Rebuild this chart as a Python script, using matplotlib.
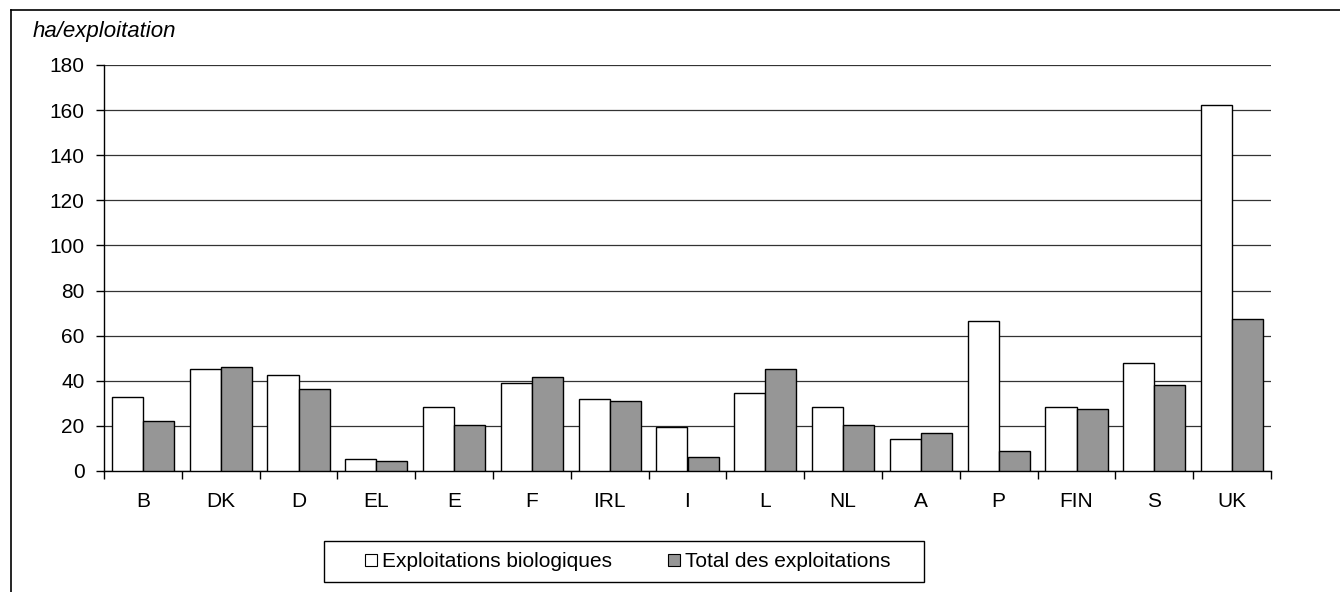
import numpy as np
import matplotlib
matplotlib.use('Agg')
import matplotlib.pyplot as plt
from matplotlib.lines import Line2D
from matplotlib.patches import Rectangle
from matplotlib.ticker import FixedLocator

plt.rcParams['font.family'] = ['Liberation Sans', 'DejaVu Sans']

countries = ['B', 'DK', 'D', 'EL', 'E', 'F', 'IRL', 'I', 'L', 'NL', 'A', 'P', 'FIN', 'S', 'UK']
bio = [32.7, 45.1, 42.4, 5.2, 28.2, 38.9, 31.8, 19.4, 34.4, 28.2, 14.0, 66.3, 28.2, 47.7, 162.1]
total = [22.0, 46.0, 36.2, 4.3, 20.2, 41.5, 30.9, 6.1, 45.1, 20.2, 16.7, 8.7, 27.3, 38.0, 67.2]
yticks = [0, 20, 40, 60, 80, 100, 120, 140, 160, 180]

fs = 15
grey = '#969696'
W, H = 1340, 592

fig = plt.figure(figsize=(13.4, 5.92), dpi=100, facecolor='white')
ax = fig.add_axes([104/W, 121/H, 1167/W, 406/H])

x = np.arange(len(countries))
w = 0.4
ax.bar(x - w/2, bio, w, color='white', edgecolor='black', lw=1, zorder=3)
ax.bar(x + w/2, total, w, color=grey, edgecolor='black', lw=1, zorder=3)

ax.set_xlim(-0.5, len(countries) - 0.5)
ax.set_ylim(0, 180)
ax.set_yticks(yticks)
ax.yaxis.grid(True, color='#333333', lw=0.9, zorder=0)
ax.set_xticks(x)
ax.set_xticklabels(countries)
ax.xaxis.set_minor_locator(FixedLocator(np.arange(-0.5, len(countries), 1)))
ax.tick_params(axis='x', which='major', length=0, pad=15, labelsize=fs)
ax.tick_params(axis='x', which='minor', length=6, width=1, direction='out')
ax.tick_params(axis='y', length=6, width=1, direction='out', labelsize=fs, pad=8)
for s in ['top', 'right']:
    ax.spines[s].set_visible(False)
ax.spines['left'].set_linewidth(1)
ax.spines['bottom'].set_linewidth(1)

fig.text(33/W, 1 - 32/H, 'ha/exploitation', fontsize=16, style='italic',
         ha='left', va='center')

# outer frame (left and top edges visible)
fig.add_artist(Line2D([11/W, 11/W], [0, 1 - 10/H], color='black', lw=1.2,
                      transform=fig.transFigure))
fig.add_artist(Line2D([11/W, 1], [1 - 10/H, 1 - 10/H], color='black', lw=1.2,
                      transform=fig.transFigure))

# legend box drawn separately so its padding matches
fig.add_artist(Rectangle((324/W, 1 - 582/H), 600/W, 41/H, transform=fig.transFigure,
                         facecolor='white', edgecolor='black', lw=1, zorder=4))

handles = [
    Line2D([], [], marker='s', ls='none', markersize=8.5, markerfacecolor='white',
           markeredgecolor='black', markeredgewidth=0.8),
    Line2D([], [], marker='s', ls='none', markersize=8.5, markerfacecolor=grey,
           markeredgecolor='black', markeredgewidth=0.8),
]
leg = fig.legend(handles, ['Exploitations biologiques', 'Total des exploitations'],
                 loc='center', bbox_to_anchor=(627/W, 1 - 561.5/H), ncol=2,
                 fontsize=fs, frameon=False, handlelength=0.7,
                 handletextpad=0.2, columnspacing=2.6, borderpad=0,
                 borderaxespad=0)
leg.set_zorder(5)

fig.savefig('out.png', dpi=100, facecolor='white')
